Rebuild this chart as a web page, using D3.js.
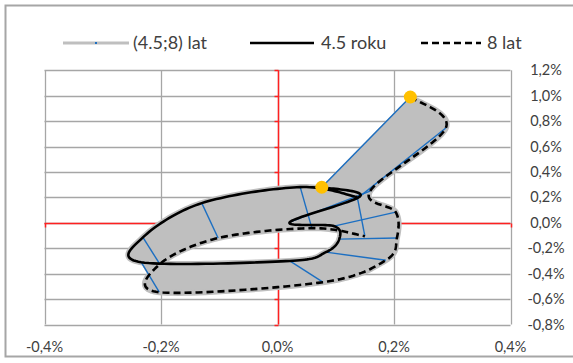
<!DOCTYPE html>
<html><head><meta charset="utf-8">
<script src="https://cdn.jsdelivr.net/npm/d3@7/dist/d3.min.js"></script>
<style>
body{margin:0;background:#fff}
svg{display:block}
text{font-family:Lato,"Open Sans",sans-serif;fill:#404040}
</style>
</head><body>
<svg id="chart" width="573" height="363"></svg>
<script>
// ---- data (values in %) ----
const xTicks = [-0.4, -0.2, 0, 0.2, 0.4];
const xTickLabels = ["-0,4%", "-0,2%", "0,0%", "0,2%", "0,4%"];
const yTicks = [-0.8, -0.6, -0.4, -0.2, 0, 0.2, 0.4, 0.6, 0.8, 1.0, 1.2];
const yTickLabels = ["-0,8%", "-0,6%", "-0,4%", "-0,2%", "0,0%", "0,2%", "0,4%", "0,6%", "0,8%", "1,0%", "1,2%"];
const seriesNames = ["(4.5;8) lat", "4.5 roku", "8 lat"];

// 4.5-year trajectory
const y45x = [0.076, 0.142, 0.021, 0.097, 0.106, 0.083, 0.021, -0.234, -0.231, -0.130, 0.039, 0.137];
const y45y = [0.28, 0.21, 0.005, -0.026, -0.128, -0.231, -0.30, -0.31, -0.115, 0.155, 0.281, 0.202];
// 8-year trajectory
const y8x = [0.228, 0.289, 0.159, 0.203, 0.205, 0.186, 0.078, -0.203, -0.202, -0.102, 0.059, 0.150];
const y8y = [0.99, 0.746, 0.25, 0.084, -0.12, -0.294, -0.467, -0.546, -0.325, -0.12, -0.042, -0.105];
// highlighted (latest) observation index
const highlightIndex = 0;

// ---- layout ----
const svg = d3.select("#chart");
const x = d3.scaleLinear().domain([-0.4, 0.4]).range([44.5, 510.5]);
const y = d3.scaleLinear().domain([-0.8, 1.2]).range([324.5, 70.3]);
const GRID = "#a6a6a6", RED = "#ff2020", BAND = "#bfbfbf", BLUE = "#1c6fc2";

// outer border
svg.append("rect").attr("x", 5.5).attr("y", 5.5).attr("width", 580).attr("height", 351)
  .attr("fill", "none").attr("stroke", "#a6a6a6").attr("stroke-width", 2);

// grid
const g = svg.append("g");
yTicks.forEach(v => {
  g.append("line").attr("x1", x(-0.4)).attr("x2", x(0.4)).attr("y1", Math.round(y(v)) + 0.5).attr("y2", Math.round(y(v)) + 0.5)
    .attr("stroke", GRID).attr("stroke-width", 1.3);
});
xTicks.forEach(v => {
  g.append("line").attr("x1", Math.round(x(v)) + 0.5).attr("x2", Math.round(x(v)) + 0.5).attr("y1", y(1.2)).attr("y2", y(-0.8))
    .attr("stroke", GRID).attr("stroke-width", 1.3);
});
// red zero axes with small ticks
const x0 = Math.round(x(0)) + 0.5, y0 = Math.round(y(0)) + 0.5;
g.append("line").attr("x1", x0).attr("x2", x0).attr("y1", y(1.2)).attr("y2", y(-0.8)).attr("stroke", RED).attr("stroke-width", 1.5);
yTicks.forEach(v => g.append("line").attr("x1", x0 - 4).attr("x2", x0).attr("y1", Math.round(y(v)) + 0.5).attr("y2", Math.round(y(v)) + 0.5).attr("stroke", RED).attr("stroke-width", 1.5));
g.append("line").attr("x1", x(-0.4)).attr("x2", x(0.4)).attr("y1", y0).attr("y2", y0).attr("stroke", RED).attr("stroke-width", 1.5);
xTicks.forEach(v => g.append("line").attr("x1", Math.round(x(v)) + 0.5).attr("x2", Math.round(x(v)) + 0.5).attr("y1", y0).attr("y2", y0 + 4).attr("stroke", RED).attr("stroke-width", 1.5));

// axis labels
xTicks.forEach((v, i) => svg.append("text").attr("x", x(v)).attr("y", 352).attr("text-anchor", "middle")
  .attr("font-size", 14.5).text(xTickLabels[i]));
yTicks.forEach((v, i) => svg.append("text").attr("x", 546).attr("y", y(v) + 5).attr("text-anchor", "middle")
  .attr("font-size", 14.5).text(yTickLabels[i]));

// ---- smoothed trajectories (uniform Catmull-Rom, like Excel smoothing) ----
const P45 = y45x.map((v, i) => [x(v), y(y45y[i])]);
const P8 = y8x.map((v, i) => [x(v), y(y8y[i])]);
function segments(P, n) {
  const out = [];
  for (let i = 0; i < P.length - 1; i++) {
    const p0 = P[Math.max(i - 1, 0)], p1 = P[i], p2 = P[i + 1], p3 = P[Math.min(i + 2, P.length - 1)];
    const seg = [];
    for (let k = 0; k <= n; k++) {
      const t = k / n, t2 = t * t, t3 = t2 * t;
      seg.push([0, 1].map(j => 0.5 * (2 * p1[j] + (-p0[j] + p2[j]) * t + (2 * p0[j] - 5 * p1[j] + 4 * p2[j] - p3[j]) * t2 + (-p0[j] + 3 * p1[j] - 3 * p2[j] + p3[j]) * t3)));
    }
    out.push(seg);
  }
  return out;
}
const S45 = segments(P45, 24), S8 = segments(P8, 24);
const flat = segs => segs.reduce((a, s, i) => a.concat(i ? s.slice(1) : s), []);
const line = d3.line();

// band between the two maturities
const band = svg.append("g");
S45.forEach((seg, i) => {
  const poly = seg.concat(S8[i].slice().reverse());
  band.append("path").attr("d", line(poly) + "Z").attr("fill", BAND).attr("stroke", BAND).attr("stroke-width", 1.5)
    .attr("stroke-linejoin", "round");
});
band.append("path").attr("d", line(flat(S45))).attr("fill", "none").attr("stroke", BAND).attr("stroke-width", 6).attr("stroke-linejoin", "round");
band.append("path").attr("d", line(flat(S8))).attr("fill", "none").attr("stroke", BAND).attr("stroke-width", 6).attr("stroke-linejoin", "round");

// cross-maturity lines (markers of intermediate maturities)
P45.forEach((p, i) => {
  svg.append("line").attr("x1", p[0]).attr("y1", p[1]).attr("x2", P8[i][0]).attr("y2", P8[i][1])
    .attr("stroke", BLUE).attr("stroke-width", 1.4);
});

// main curves
svg.append("path").attr("d", line(flat(S45))).attr("fill", "none").attr("stroke", "#000").attr("stroke-width", 2.6).attr("stroke-linejoin", "round");
svg.append("path").attr("d", line(flat(S8))).attr("fill", "none").attr("stroke", "#000").attr("stroke-width", 2.6).attr("stroke-dasharray", "7,4");

// highlighted points
[P45[highlightIndex], P8[highlightIndex]].forEach(p => svg.append("circle").attr("cx", p[0]).attr("cy", p[1]).attr("r", 6.5).attr("fill", "#ffc000"));

// ---- legend ----
const ly = 43;
const leg = svg.append("g");
leg.append("line").attr("x1", 63).attr("x2", 129).attr("y1", ly).attr("y2", ly).attr("stroke", BAND).attr("stroke-width", 3);
leg.append("rect").attr("x", 95).attr("y", ly - 1).attr("width", 2).attr("height", 2).attr("fill", BLUE);
leg.append("text").attr("x", 133).attr("y", ly + 6).attr("font-size", 18).text(seriesNames[0]);
leg.append("line").attr("x1", 250).attr("x2", 314).attr("y1", ly).attr("y2", ly).attr("stroke", "#000").attr("stroke-width", 2.6);
leg.append("text").attr("x", 321).attr("y", ly + 6).attr("font-size", 18).text(seriesNames[1]);
leg.append("line").attr("x1", 421).attr("x2", 481).attr("y1", ly).attr("y2", ly).attr("stroke", "#000").attr("stroke-width", 2.6).attr("stroke-dasharray", "7,4");
leg.append("text").attr("x", 487).attr("y", ly + 6).attr("font-size", 18).text(seriesNames[2]);
</script>
</body></html>
